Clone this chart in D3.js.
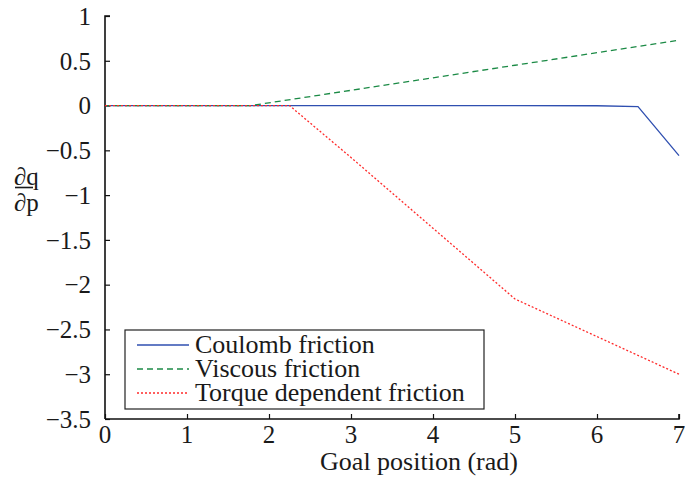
<!DOCTYPE html>
<html>
<head>
<meta charset="utf-8">
<script src="https://cdn.jsdelivr.net/npm/d3@7"></script>
<style>
  html, body { margin: 0; padding: 0; background: #fff; }
  svg text { font-family: "Liberation Serif", "Times New Roman", serif; fill: #1a1a1a; }
</style>
</head>
<body>
<svg id="chart" width="685" height="477"></svg>
<script>
// Sensitivity of the joint angle to each friction parameter vs. goal position
const coulombX = [0, 1, 2, 3, 4, 5, 6, 6.5, 7];
const coulombY = [0, 0, 0, 0, 0, 0, -0.002, -0.012, -0.56];

const viscousX = [0, 1, 1.78, 3, 4, 5, 6, 7];
const viscousY = [0, 0, 0, 0.17, 0.31, 0.45, 0.59, 0.73];

const torqueX = [0, 1, 2, 2.25, 3, 4, 5, 6, 7];
const torqueY = [0, 0, 0, 0, -0.58, -1.37, -2.16, -2.58, -3.0];

const xTicks = [0, 1, 2, 3, 4, 5, 6, 7];
const yTicks = [1, 0.5, 0, -0.5, -1, -1.5, -2, -2.5, -3, -3.5];

const seriesNames = ["Coulomb friction", "Viscous friction", "Torque dependent friction"];
const seriesColors = ["#2f4fb0", "#1b8a45", "#ff2a2a"];
const seriesDash = [null, "6,4", "2,2"];
const xLabel = "Goal position (rad)";

const svg = d3.select("#chart");
const x = d3.scaleLinear().domain([0, 7]).range([105, 679]);
const y = d3.scaleLinear().domain([-3.5, 1]).range([419, 16]);

const fmt = v => (v < 0 ? "\u2212" + Math.abs(v) : String(v));

// Y axis: ticks point into the plot
const yAxis = svg.append("g").attr("transform", `translate(${x(0)},0)`)
  .call(d3.axisRight(y).tickValues(yTicks).tickSize(5).tickFormat(""));
yAxis.select(".domain").attr("d", `M0,${y(-3.5)}V${y(1)}h5`).attr("stroke", "#111").attr("stroke-width", 1.6).attr("fill", "none");
yAxis.selectAll(".tick line").attr("stroke", "#111").attr("stroke-width", 1.2);

svg.append("g").selectAll("text").data(yTicks).join("text")
  .attr("x", 91).attr("y", d => y(d)).attr("dy", "0.35em")
  .attr("text-anchor", "end").attr("font-size", 25).text(fmt);

// X axis: ticks point up into the plot
const xAxis = svg.append("g").attr("transform", `translate(0,${y(-3.5)})`)
  .call(d3.axisTop(x).tickValues(xTicks).tickSize(5).tickFormat(""));
xAxis.select(".domain").attr("d", `M${x(0)},0H${x(7)}v-5`).attr("stroke", "#111").attr("stroke-width", 1.6).attr("fill", "none");
xAxis.selectAll(".tick line").attr("stroke", "#111").attr("stroke-width", 1.2);

svg.append("g").selectAll("text").data(xTicks).join("text")
  .attr("x", d => x(d)).attr("y", 443)
  .attr("text-anchor", "middle").attr("font-size", 25).text(fmt);

svg.append("text").attr("x", 419).attr("y", 470)
  .attr("text-anchor", "middle").attr("font-size", 26).text(xLabel);

// Y label: ∂q over ∂p
svg.append("text").attr("x", 14).attr("y", 185).attr("font-size", 25).text("\u2202q");
svg.append("line").attr("x1", 15).attr("x2", 33).attr("y1", 187.5).attr("y2", 187.5)
  .attr("stroke", "#1a1a1a").attr("stroke-width", 1.6);
svg.append("text").attr("x", 14).attr("y", 211).attr("font-size", 25).text("\u2202p");

// Curves
const line = d3.line().x(d => x(d[0])).y(d => y(d[1]));
const series = [
  d3.zip(coulombX, coulombY),
  d3.zip(viscousX, viscousY),
  d3.zip(torqueX, torqueY)
];
svg.append("g").selectAll("path").data(series).join("path")
  .attr("d", line)
  .attr("fill", "none")
  .attr("stroke", (d, i) => seriesColors[i])
  .attr("stroke-width", 1.3)
  .attr("stroke-dasharray", (d, i) => seriesDash[i]);

// Legend
const lg = svg.append("g");
lg.append("rect").attr("x", 125).attr("y", 330).attr("width", 359).attr("height", 79)
  .attr("fill", "#fff").attr("stroke", "#222").attr("stroke-width", 1.2);
const rows = lg.selectAll("g.row").data(seriesNames).join("g").attr("class", "row")
  .attr("transform", (d, i) => `translate(0,${345 + i * 24})`);
rows.append("line").attr("x1", 137).attr("x2", 189).attr("y1", 0).attr("y2", 0)
  .attr("stroke", (d, i) => seriesColors[i]).attr("stroke-width", 1.3)
  .attr("stroke-dasharray", (d, i) => seriesDash[i]);
rows.append("text").attr("x", 195).attr("y", 7.5).attr("font-size", 26).text(d => d);
</script>
</body>
</html>
